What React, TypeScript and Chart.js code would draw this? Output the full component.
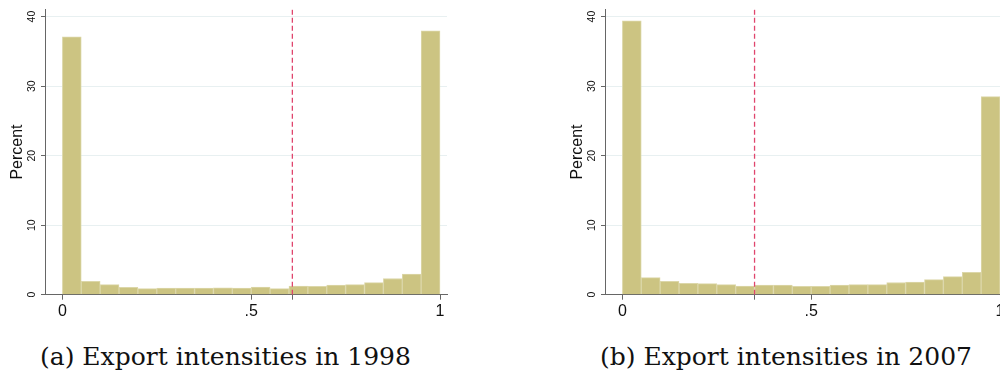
import React, { useEffect, useRef } from "react";
import { Chart, registerables } from "chart.js";

Chart.register(...registerables);

const binCenters = [0.025, 0.075, 0.125, 0.175, 0.225, 0.275, 0.325, 0.375, 0.425, 0.475, 0.525, 0.575, 0.625, 0.675, 0.725, 0.775, 0.825, 0.875, 0.925, 0.975];
const pct1998 = [37.1, 1.92, 1.45, 1.07, 0.88, 0.95, 0.95, 0.95, 1.0, 0.95, 1.1, 0.88, 1.24, 1.22, 1.38, 1.45, 1.73, 2.33, 2.95, 37.95];
const pct2007 = [39.4, 2.45, 1.92, 1.65, 1.6, 1.45, 1.24, 1.4, 1.4, 1.19, 1.19, 1.4, 1.45, 1.45, 1.76, 1.83, 2.17, 2.6, 3.2, 28.5];
const threshold1998 = 0.609;
const threshold2007 = 0.35;
const xTickValues = [0, 0.5, 1];
const xTickLabels = ["0", ".5", "1"];
const yTickValues = [0, 10, 20, 30, 40];
const yTickLabels = ["0", "10", "20", "30", "40"];
const captions = ["(a) Export intensities in 1998", "(b) Export intensities in 2007"];

const X_MIN = -0.046;
const X_MAX = 1.0185;
const Y_MAX = 41.05;
const CANVAS_W = 460;
const CANVAS_H = 330;

function Histogram({ values, threshold }: { values: number[]; threshold: number }) {
  const ref = useRef<HTMLCanvasElement | null>(null);
  useEffect(() => {
    if (!ref.current) return;
    const axisColor = "#666666";
    const chart = new Chart(ref.current, {
      type: "bar",
      data: {
        datasets: [
          {
            type: "line" as any,
            data: [
              { x: threshold, y: 0 },
              { x: threshold, y: Y_MAX },
            ],
            borderColor: "#e0456d",
            borderWidth: 1.3,
            borderDash: [5, 3],
            pointRadius: 0,
            fill: false,
            order: 0,
          } as any,
          {
            type: "bar",
            data: binCenters.map((x, i) => ({ x, y: values[i] })),
            backgroundColor: "#ccc482",
            borderColor: "#dcd7a9",
            borderWidth: 1,
            barPercentage: 1,
            categoryPercentage: 1,
            order: 1,
          } as any,
        ],
      },
      options: {
        animation: false,
        responsive: false,
        maintainAspectRatio: false,
        events: [],
        layout: { padding: { left: 0, top: 7, right: 13, bottom: 0 } },
        plugins: { legend: { display: false }, tooltip: { enabled: false }, title: { display: false } },
        scales: {
          x: {
            type: "linear",
            min: X_MIN,
            max: X_MAX,
            offset: false,
            afterBuildTicks: (scale: any) => {
              scale.ticks = [...xTickValues, threshold].sort((a, b) => a - b).map((v) => ({ value: v }));
            },
            afterFit: (scale: any) => {
              scale.height = 35.3;
            },
            ticks: {
              autoSkip: false,
              maxRotation: 0,
              minRotation: 0,
              padding: 2,
              color: "#111111",
              font: { family: "'Liberation Sans', Arial, sans-serif", size: 16 },
              callback: (v: any) => {
                const idx = xTickValues.indexOf(Number(v));
                return idx >= 0 ? xTickLabels[idx] : "";
              },
            },
            grid: {
              offset: false,
              drawOnChartArea: false,
              drawTicks: true,
              tickLength: 5,
              tickColor: axisColor,
            },
            border: { display: true, color: axisColor, width: 1 },
          },
          y: {
            type: "linear",
            min: 0,
            max: Y_MAX,
            afterBuildTicks: (scale: any) => {
              scale.ticks = yTickValues.map((v) => ({ value: v }));
            },
            afterFit: (scale: any) => {
              scale.width = 45;
            },
            ticks: {
              autoSkip: false,
              minRotation: 90,
              maxRotation: 90,
              crossAlign: "center",
              padding: 3,
              color: "#111111",
              font: { family: "'Liberation Sans', Arial, sans-serif", size: 10.5 },
              callback: (v: any) => {
                const idx = yTickValues.indexOf(Number(v));
                return idx >= 0 ? yTickLabels[idx] : "";
              },
            },
            grid: {
              drawTicks: true,
              tickLength: 4,
              tickColor: axisColor,
              color: (ctx: any) => (ctx.tick && ctx.tick.value === 0 ? "rgba(0,0,0,0)" : "#e8f0f1"),
              lineWidth: 1,
            },
            border: { display: true, color: axisColor, width: 1 },
            title: {
              display: true,
              text: "Percent",
              color: "#111111",
              font: { family: "'Liberation Sans', Arial, sans-serif", size: 16 },
              padding: { top: 8, bottom: 0 },
            },
          },
        },
      } as any,
    });
    return () => chart.destroy();
  }, [values, threshold]);
  return <canvas ref={ref} width={CANVAS_W} height={CANVAS_H} style={{ width: CANVAS_W, height: CANVAS_H, display: "block" }} />;
}

export default function App() {
  const captionStyle: React.CSSProperties = {
    position: "absolute",
    top: 339,
    fontFamily: "'DejaVu Serif', 'Liberation Serif', serif",
    fontSize: 25,
    color: "#111111",
    whiteSpace: "nowrap",
    lineHeight: "36px",
  };
  return (
    <div style={{ position: "absolute", left: 0, top: 0, width: 1000, height: 379, overflow: "hidden", background: "#ffffff" }}>
      <div style={{ position: "absolute", left: 0, top: 0 }}>
        <Histogram values={pct1998} threshold={threshold1998} />
      </div>
      <div style={{ position: "absolute", left: 560, top: 0 }}>
        <Histogram values={pct2007} threshold={threshold2007} />
      </div>
      <div style={{ ...captionStyle, left: 40 }}>{captions[0]}</div>
      <div style={{ ...captionStyle, left: 600 }}>{captions[1]}</div>
    </div>
  );
}
